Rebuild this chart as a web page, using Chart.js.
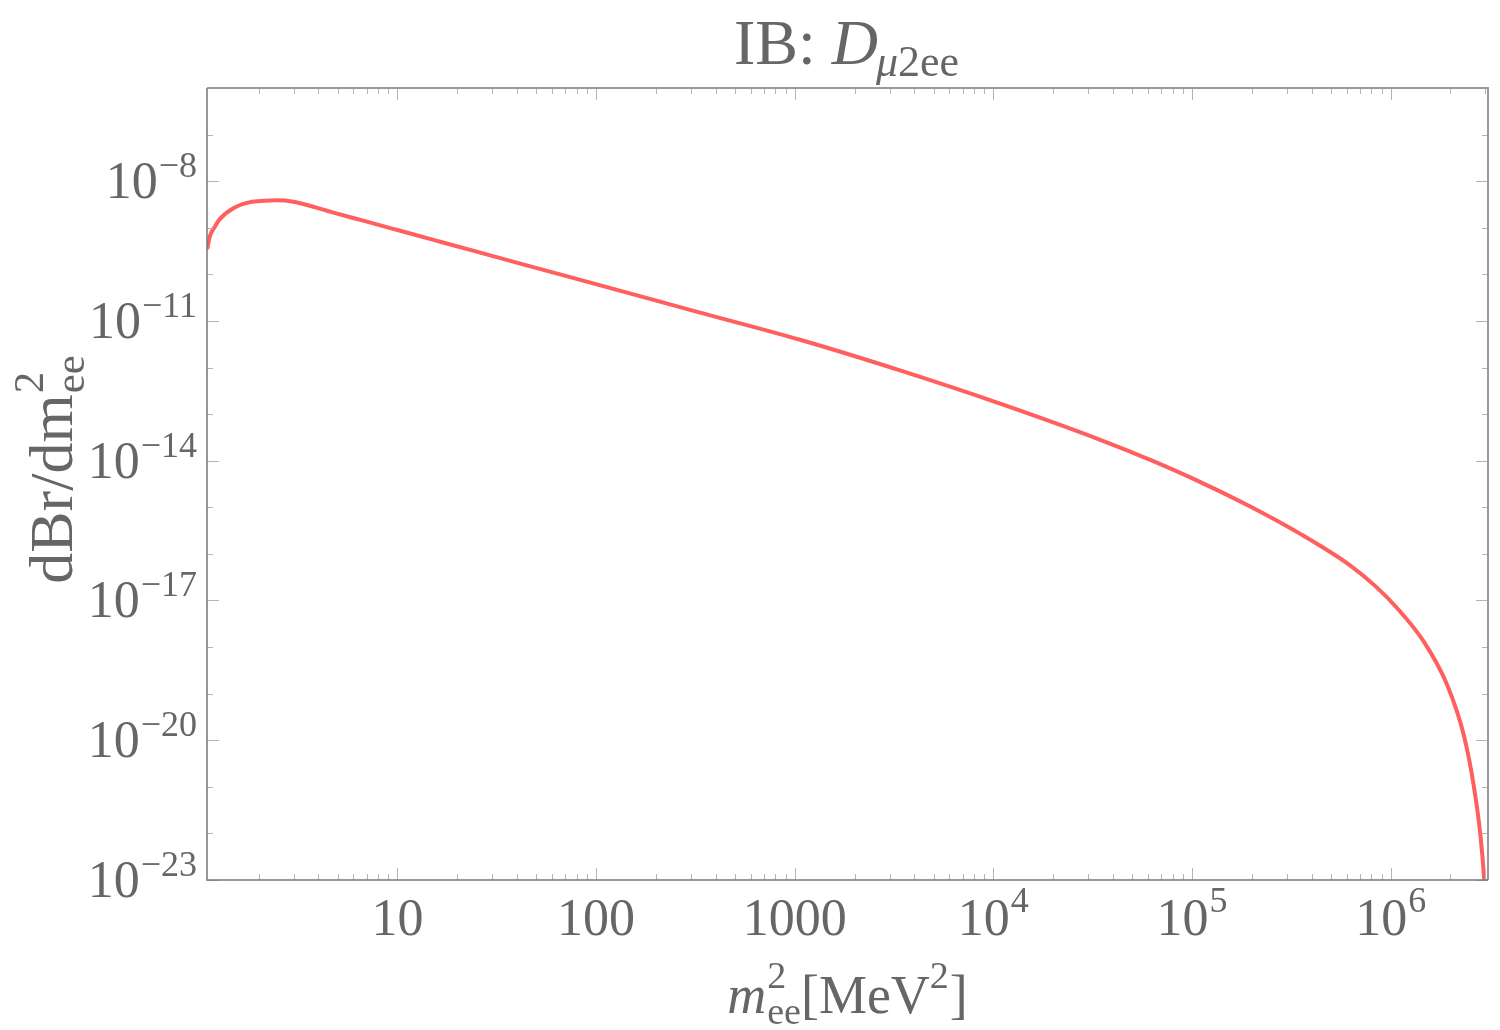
<!DOCTYPE html>
<html><head><meta charset="utf-8">
<script src="https://cdn.jsdelivr.net/npm/chart.js@4.4.1/dist/chart.umd.min.js"></script>
<style>html,body{margin:0;padding:0;background:#fff;}#wrap{width:1500px;height:1030px;}</style>
</head><body><div id="wrap"><canvas id="c" width="1500" height="1030"></canvas></div>
<script>
// ---- data ----
const m2Values = [1.102, 1.140, 1.208, 1.279, 1.493, 1.811, 2.138, 2.472, 2.992, 4.764, 7.015, 10.33, 18.07, 39.81, 127.4, 316.2, 1064, 3388, 10814, 34514, 61660, 110154, 196336, 350752, 626614, 837529, 1076465, 1465548, 1923092, 2333458, 2618183, 2831392, 2964831, 3033891];
const dBrValues = [3.47e-10, 6.76e-10, 1.07e-9, 1.55e-9, 2.63e-9, 3.55e-9, 3.80e-9, 3.89e-9, 3.63e-9, 2.11e-9, 1.35e-9, 8.61e-10, 4.49e-10, 1.79e-10, 4.65e-11, 1.61e-11, 3.94e-12, 8.67e-13, 1.68e-13, 2.81e-14, 1.04e-14, 3.48e-15, 1.04e-15, 2.69e-16, 5.62e-17, 2.03e-17, 6.90e-18, 1.32e-18, 1.55e-19, 1.29e-20, 1.07e-21, 8.91e-23, 8.71e-24, 1.26e-24];

const xMajorTicks = [10, 100, 1000, 1e4, 1e5, 1e6];
const xTickLabels = [['10',''], ['100',''], ['1000',''], ['10','4'], ['10','5'], ['10','6']];
const yLabeledTicks = [1e-8, 1e-11, 1e-14, 1e-17, 1e-20, 1e-23];
const yTickLabels = [['10','\u22128'], ['10','\u221211'], ['10','\u221214'], ['10','\u221217'], ['10','\u221220'], ['10','\u221223']];
const xRange = [1.10, 3.09e6];
const yRange = [1e-23, 1e-6];

const titleText = ['IB: ', 'D', '\u03bc', '2ee'];
const xTitleParts = ['m', '2', 'ee', '[MeV', '2', ']'];
const yTitleParts = ['dBr/dm', '2', 'ee'];

// ---- styling ----
const TXT = '#666666';
const SERIF = '"Liberation Serif", "DejaVu Serif", serif';

function drawPow(ctx, base, exp, x, y, align, bSize, eSize, raise) {
  ctx.font = bSize + 'px ' + SERIF;
  const wb = ctx.measureText(base).width;
  ctx.font = eSize + 'px ' + SERIF;
  const we = exp ? ctx.measureText(exp).width + 1 : 0;
  const total = wb + we;
  let x0 = align === 'center' ? x - total / 2 : (align === 'right' ? x - total : x);
  ctx.textAlign = 'left';
  ctx.textBaseline = 'alphabetic';
  ctx.font = bSize + 'px ' + SERIF;
  ctx.fillText(base, x0, y);
  if (exp) {
    ctx.font = eSize + 'px ' + SERIF;
    ctx.fillText(exp, x0 + wb + 1, y - raise);
  }
}

const framePlugin = {
  id: 'frame',
  afterDraw(chart) {
    const ctx = chart.ctx;
    const a = chart.chartArea;
    const xs = chart.scales.x, ys = chart.scales.y;
    ctx.save();
    // minor/major ticks
    ctx.strokeStyle = '#b4b4b4';
    ctx.lineWidth = 1;
    const decadesX = [1, 10, 100, 1000, 1e4, 1e5, 1e6];
    decadesX.forEach(d => {
      for (let k = 1; k <= 9; k++) {
        const v = d * k;
        if (v < xRange[0] || v > xRange[1]) continue;
        const px = Math.round(xs.getPixelForValue(v)) + 0.5;
        const len = (k === 1) ? 12 : 6;
        ctx.beginPath();
        ctx.moveTo(px, a.bottom); ctx.lineTo(px, a.bottom - len);
        ctx.moveTo(px, a.top); ctx.lineTo(px, a.top + len);
        ctx.stroke();
      }
    });
    for (let e = -23; e <= -6; e++) {
      const v = Math.pow(10, e);
      const py = Math.round(ys.getPixelForValue(v)) + 0.5;
      const labeled = ((e + 23) % 3 === 0);
      const len = labeled ? 12 : 6;
      ctx.beginPath();
      ctx.moveTo(a.left, py); ctx.lineTo(a.left + len, py);
      ctx.moveTo(a.right, py); ctx.lineTo(a.right - len, py);
      ctx.stroke();
    }
    // frame
    ctx.strokeStyle = '#999999';
    ctx.lineWidth = 2;
    ctx.beginPath();
    ctx.moveTo(a.left, a.top); ctx.lineTo(a.right, a.top); ctx.lineTo(a.right, a.bottom);
    ctx.stroke();
    ctx.strokeStyle = '#777777';
    ctx.lineWidth = 1.5;
    ctx.beginPath();
    ctx.moveTo(a.left, a.top); ctx.lineTo(a.left, a.bottom); ctx.lineTo(a.right, a.bottom);
    ctx.stroke();

    ctx.fillStyle = TXT;
    // x tick labels
    xMajorTicks.forEach((v, i) => {
      const px = xs.getPixelForValue(v);
      drawPow(ctx, xTickLabels[i][0], xTickLabels[i][1], px, a.bottom + 55, 'center', 52, 36, 23);
    });
    // y tick labels
    yLabeledTicks.forEach((v, i) => {
      const py = ys.getPixelForValue(v);
      drawPow(ctx, yTickLabels[i][0], yTickLabels[i][1], a.left - 10, py + 17, 'right', 52, 36, 21);
    });

    // title
    ctx.textBaseline = 'alphabetic';
    ctx.textAlign = 'left';
    ctx.font = '64px ' + SERIF;
    const w1 = ctx.measureText(titleText[0]).width;
    ctx.font = 'italic 64px ' + SERIF;
    const w2 = ctx.measureText(titleText[1]).width;
    ctx.font = 'italic 44px ' + SERIF;
    const w3 = ctx.measureText(titleText[2]).width;
    ctx.font = '44px ' + SERIF;
    const w4 = ctx.measureText(titleText[3]).width;
    const cx = (a.left + a.right) / 2;
    let tx = cx - (w1 + w2 + w3 + w4) / 2;
    const tb = 64;
    ctx.font = '64px ' + SERIF; ctx.fillText(titleText[0], tx, tb); tx += w1;
    ctx.font = 'italic 64px ' + SERIF; ctx.fillText(titleText[1], tx, tb); tx += w2;
    ctx.font = 'italic 44px ' + SERIF; ctx.fillText(titleText[2], tx - 2, tb + 12); tx += w3;
    ctx.font = '44px ' + SERIF; ctx.fillText(titleText[3], tx - 2, tb + 12);

    // x axis title
    const bS = 54, sS = 38;
    ctx.font = 'italic ' + bS + 'px ' + SERIF;
    const wm = ctx.measureText(xTitleParts[0]).width;
    ctx.font = sS + 'px ' + SERIF;
    const ws = Math.max(ctx.measureText(xTitleParts[1]).width, ctx.measureText(xTitleParts[2]).width);
    const w2s = ctx.measureText(xTitleParts[4]).width;
    ctx.font = bS + 'px ' + SERIF;
    const wmev = ctx.measureText(xTitleParts[3]).width;
    const wbr = ctx.measureText(xTitleParts[5]).width;
    const totX = wm + ws + wmev + w2s + wbr + 2;
    let xx = cx - totX / 2;
    const xb = 1013;
    ctx.font = 'italic ' + bS + 'px ' + SERIF; ctx.fillText(xTitleParts[0], xx, xb); xx += wm + 1;
    ctx.font = sS + 'px ' + SERIF;
    ctx.fillText(xTitleParts[1], xx, xb - 25);
    ctx.fillText(xTitleParts[2], xx, xb + 11); xx += ws;
    ctx.font = bS + 'px ' + SERIF; ctx.fillText(xTitleParts[3], xx, xb); xx += wmev;
    ctx.font = sS + 'px ' + SERIF; ctx.fillText(xTitleParts[4], xx, xb - 25); xx += w2s + 1;
    ctx.font = bS + 'px ' + SERIF; ctx.fillText(xTitleParts[5], xx, xb);

    // y axis title (rotated)
    const yS = 62, ySs = 43;
    ctx.save();
    ctx.translate(72, 470);
    ctx.rotate(-Math.PI / 2);
    ctx.font = yS + 'px ' + SERIF;
    const wd = ctx.measureText(yTitleParts[0]).width;
    ctx.font = ySs + 'px ' + SERIF;
    const wse = Math.max(ctx.measureText(yTitleParts[1]).width, ctx.measureText(yTitleParts[2]).width);
    let yx = -(wd + wse) / 2;
    ctx.font = yS + 'px ' + SERIF; ctx.fillText(yTitleParts[0], yx, 0); yx += wd + 1;
    ctx.font = ySs + 'px ' + SERIF;
    ctx.fillText(yTitleParts[1], yx, -29);
    ctx.fillText(yTitleParts[2], yx, 12);
    ctx.restore();

    ctx.restore();
  }
};

new Chart(document.getElementById('c'), {
  type: 'line',
  data: {
    datasets: [{
      data: m2Values.map((x, i) => ({ x: x, y: dBrValues[i] })),
      borderColor: '#ff5f5f',
      borderWidth: 4,
      pointRadius: 0,
      fill: false,
      cubicInterpolationMode: 'monotone',
      clip: 0
    }]
  },
  options: {
    responsive: false,
    devicePixelRatio: 1,
    animation: false,
    layout: { padding: { left: 207, top: 88, right: 12, bottom: 150 } },
    plugins: { legend: { display: false }, tooltip: { enabled: false }, title: { display: false } },
    scales: {
      x: { type: 'logarithmic', min: xRange[0], max: xRange[1], display: false },
      y: { type: 'logarithmic', min: yRange[0], max: yRange[1], display: false }
    }
  },
  plugins: [framePlugin]
});
</script>
</body></html>
